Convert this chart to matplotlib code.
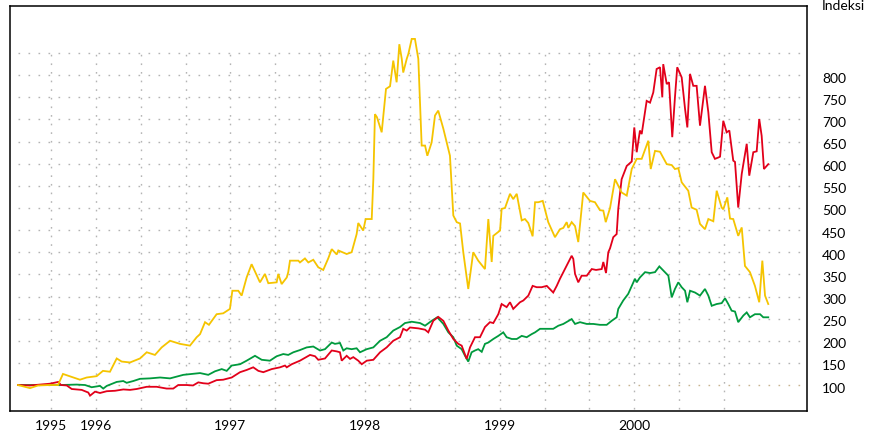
import matplotlib
matplotlib.use("Agg")
import matplotlib.pyplot as plt
import matplotlib.transforms as mtransforms
import numpy as np

# ---- data: (fractional year, index value) ----
yellow = [(1995.423,100),(1995.512,93),(1995.572,99),(1995.661,100),(1995.720,100),(1995.757,125),
(1995.883,112),(1995.933,117),(1996.007,120),(1996.054,132),(1996.106,130),(1996.156,160),(1996.193,153),
(1996.255,151),(1996.329,160),(1996.379,174),(1996.440,168),(1996.490,185),(1996.552,200),(1996.626,193),
(1996.700,189),(1996.750,208),(1996.775,215),(1996.812,242),(1996.841,236),(1996.898,260),(1996.947,262),
(1996.997,272),(1997.015,313),(1997.059,313),(1997.084,302),(1997.121,343),(1997.158,373),(1997.220,332),
(1997.257,351),(1997.282,330),(1997.344,332),(1997.356,351),(1997.381,328),(1997.419,343),(1997.430,355),
(1997.443,381),(1997.505,381),(1997.517,377),(1997.554,386),(1997.579,377),(1997.616,383),(1997.653,366),
(1997.690,360),(1997.727,386),(1997.753,407),(1997.790,395),(1997.802,404),(1997.864,396),(1997.901,400),
(1997.938,441),(1997.950,466),(1997.987,449),(1998.005,475),(1998.050,475),(1998.062,565),(1998.074,712),
(1998.089,705),(1998.124,671),(1998.141,722),(1998.156,769),(1998.186,775),(1998.210,833),(1998.235,784),
(1998.255,870),(1998.273,837),(1998.284,806),(1998.310,837),(1998.322,848),(1998.347,882),(1998.371,882),
(1998.396,837),(1998.421,641),(1998.446,641),(1998.463,618),(1998.495,648),(1998.520,709),(1998.544,720),
(1998.582,679),(1998.631,618),(1998.656,483),(1998.681,468),(1998.706,465),(1998.730,400),(1998.767,317),
(1998.804,400),(1998.841,381),(1998.891,362),(1998.916,475),(1998.941,378),(1998.953,437),(1999.003,449),
(1999.015,498),(1999.040,500),(1999.077,532),(1999.101,520),(1999.127,532),(1999.164,472),(1999.188,475),
(1999.213,466),(1999.245,436),(1999.263,513),(1999.287,513),(1999.320,516),(1999.361,468),(1999.411,434),
(1999.448,452),(1999.473,455),(1999.498,468),(1999.510,455),(1999.535,468),(1999.560,459),(1999.584,423),
(1999.621,535),(1999.671,516),(1999.708,513),(1999.745,495),(1999.770,494),(1999.788,468),(1999.820,500),
(1999.857,565),(1999.906,535),(1999.944,528),(1999.981,588),(2000.018,611),(2000.055,611),(2000.104,652),
(2000.122,588),(2000.154,629),(2000.191,627),(2000.241,599),(2000.278,597),(2000.302,588),(2000.327,590),
(2000.352,558),(2000.401,539),(2000.426,501),(2000.463,496),(2000.488,464),(2000.525,452),(2000.550,475),
(2000.587,470),(2000.612,539),(2000.649,501),(2000.661,497),(2000.691,524),(2000.711,476),(2000.735,475),
(2000.772,437),(2000.798,456),(2000.822,369),(2000.859,355),(2000.896,324),(2000.928,287),(2000.951,381),
(2000.971,302),(2000.995,283)]

red = [(1995.423,100),(1995.512,99),(1995.586,101),(1995.661,103),(1995.722,107),(1995.742,100),
(1995.785,99),(1995.822,91),(1995.896,89),(1995.945,83),(1995.958,76),(1995.995,85),(1996.032,82),
(1996.082,86),(1996.143,87),(1996.205,90),(1996.255,89),(1996.304,91),(1996.379,96),(1996.453,96),
(1996.527,92),(1996.576,92),(1996.613,100),(1996.676,100),(1996.723,99),(1996.762,106),(1996.799,104),
(1996.836,103),(1996.898,111),(1996.947,112),(1997.010,117),(1997.072,129),(1997.121,134),(1997.170,140),
(1997.208,132),(1997.245,129),(1997.307,136),(1997.369,140),(1997.406,144),(1997.419,140),(1997.456,147),
(1997.517,155),(1997.592,168),(1997.629,165),(1997.653,157),(1997.703,160),(1997.753,178),(1997.790,176),
(1997.814,174),(1997.827,155),(1997.864,166),(1997.889,159),(1997.913,163),(1997.950,155),(1997.976,147),
(1998.013,155),(1998.062,157),(1998.112,174),(1998.161,185),(1998.210,200),(1998.260,208),(1998.284,227),
(1998.310,223),(1998.334,230),(1998.396,228),(1998.446,225),(1998.470,219),(1998.507,245),(1998.544,254),
(1998.582,245),(1998.619,223),(1998.656,204),(1998.693,193),(1998.718,189),(1998.755,159),(1998.780,185),
(1998.817,208),(1998.854,208),(1998.891,231),(1998.928,242),(1998.953,240),(1998.990,260),(1999.015,283),
(1999.052,276),(1999.077,287),(1999.101,272),(1999.151,287),(1999.176,291),(1999.213,302),(1999.245,324),
(1999.275,321),(1999.312,321),(1999.350,324),(1999.398,309),(1999.424,324),(1999.448,340),(1999.485,362),
(1999.535,392),(1999.547,385),(1999.560,351),(1999.584,332),(1999.609,347),(1999.647,347),(1999.684,362),
(1999.716,360),(1999.758,362),(1999.770,378),(1999.790,353),(1999.807,400),(1999.820,409),(1999.844,434),
(1999.869,441),(1999.881,498),(1999.906,565),(1999.944,595),(1999.981,605),(2000.000,682),(2000.018,626),
(2000.042,675),(2000.055,667),(2000.092,742),(2000.117,738),(2000.141,761),(2000.166,814),(2000.191,818),
(2000.208,750),(2000.215,825),(2000.241,780),(2000.258,784),(2000.282,660),(2000.302,750),(2000.319,818),
(2000.352,795),(2000.377,724),(2000.394,682),(2000.414,803),(2000.438,776),(2000.463,776),(2000.488,686),
(2000.525,776),(2000.550,716),(2000.575,626),(2000.599,611),(2000.624,614),(2000.637,616),(2000.661,697),
(2000.686,671),(2000.706,675),(2000.735,607),(2000.748,604),(2000.772,501),(2000.798,577),(2000.835,645),
(2000.854,573),(2000.884,626),(2000.909,628),(2000.928,701),(2000.946,663),(2000.963,588),(2000.995,599)]

green = [(1995.423,100),(1995.586,100),(1995.735,100),(1995.859,101),(1995.921,100),(1995.970,95),
(1996.032,98),(1996.056,92),(1996.082,98),(1996.156,107),(1996.205,109),(1996.230,105),(1996.279,109),
(1996.329,114),(1996.403,115),(1996.478,117),(1996.552,115),(1996.601,119),(1996.651,123),(1996.713,125),
(1996.775,127),(1996.836,123),(1996.886,131),(1996.936,136),(1996.973,132),(1997.010,144),(1997.072,147),
(1997.121,155),(1997.183,166),(1997.233,157),(1997.294,155),(1997.344,165),(1997.393,170),(1997.430,168),
(1997.468,174),(1997.517,179),(1997.567,185),(1997.616,187),(1997.666,178),(1997.703,181),(1997.753,196),
(1997.777,193),(1997.814,195),(1997.839,178),(1997.864,183),(1997.901,181),(1997.938,183),(1997.963,174),
(1998.013,181),(1998.062,185),(1998.112,200),(1998.161,208),(1998.210,223),(1998.260,231),(1998.297,240),
(1998.347,243),(1998.409,240),(1998.446,234),(1998.495,245),(1998.537,253),(1998.582,238),(1998.619,219),
(1998.656,208),(1998.681,189),(1998.718,181),(1998.743,166),(1998.767,153),(1998.792,174),(1998.817,178),
(1998.841,181),(1998.867,175),(1998.891,193),(1998.916,196),(1998.953,204),(1998.990,211),(1999.027,219),
(1999.052,208),(1999.090,204),(1999.127,204),(1999.164,211),(1999.201,208),(1999.238,215),(1999.263,219),
(1999.300,227),(1999.350,227),(1999.398,227),(1999.436,234),(1999.473,238),(1999.535,249),(1999.560,238),
(1999.597,242),(1999.647,238),(1999.696,238),(1999.745,236),(1999.795,236),(1999.832,245),(1999.869,253),
(1999.881,272),(1999.918,291),(1999.955,306),(1999.993,332),(2000.005,340),(2000.018,332),(2000.042,343),
(2000.080,355),(2000.117,353),(2000.154,355),(2000.186,368),(2000.215,359),(2000.253,347),(2000.278,298),
(2000.302,317),(2000.327,332),(2000.352,321),(2000.377,313),(2000.394,287),(2000.414,313),(2000.451,309),
(2000.488,302),(2000.525,317),(2000.550,302),(2000.575,279),(2000.612,283),(2000.649,285),(2000.674,296),
(2000.698,283),(2000.723,268),(2000.748,266),(2000.772,242),(2000.810,257),(2000.835,264),(2000.859,253),
(2000.896,260),(2000.934,260),(2000.958,253),(2000.995,253)]

y_ticks = [100, 150, 200, 250, 300, 350, 400, 450, 500, 550, 600, 650, 700, 750, 800]
grid_levels = y_ticks + [850]
x_tick_pos = [1995.667, 1996.0, 1997.0, 1998.0, 1999.0, 2000.0]
x_tick_labels = ["1995", "1996", "1997", "1998", "1999", "2000"]
vgrid = [1995.667 + k / 3 for k in range(16)]

C_YEL = "#f5c400"
C_RED = "#e2001a"
C_GRN = "#009a3d"

plt.rcParams['font.family'] = ['Lato', 'DejaVu Sans']

fig = plt.figure(figsize=(8.72, 4.39), dpi=100)
ax = fig.add_axes([0.012, 0.0615, 0.9135, 0.9225])
ax.set_xlim(1995.367, 2001.283)
ax.set_ylim(41.3, 956.3)

# grid
for g in grid_levels:
    col = "#c8b592" if g == 100 else "#b4b4b4"
    ax.hlines(g, 1995.42, 2001.27, colors=col, linestyles=(0, (1.2, 6)), linewidth=1.0, zorder=1)
for v in vgrid:
    ax.vlines(v, 45, 860, colors="#b4b4b4", linestyles=(0, (1.2, 5)), linewidth=1.0, zorder=1)

for data, col in [(green, C_GRN), (red, C_RED), (yellow, C_YEL)]:
    t = [p[0] for p in data]
    v = [p[1] for p in data]
    ax.plot(t, v, color=col, linewidth=1.3, solid_joinstyle='miter', zorder=3)

for s in ax.spines.values():
    s.set_linewidth(1.1)
    s.set_color("black")

ax.set_xticks(x_tick_pos)
ax.set_xticklabels(x_tick_labels, fontsize=10)
ax.tick_params(axis='x', length=0, pad=6)
ax.set_yticks([])

# right-hand value labels, slightly below their grid lines as in the original
ytrans = mtransforms.blended_transform_factory(ax.transAxes, ax.transData) + \
    mtransforms.ScaledTranslation(15 / 100, -2.5 / 100, fig.dpi_scale_trans)
for t in y_ticks:
    ax.text(1.0, t, str(t), transform=ytrans, fontsize=10, ha='left', va='center')

fig.text(821.7 / 872, 1 - 6 / 439, "Indeksi", fontsize=10, ha='left', va='center')

fig.savefig("out.png", dpi=100)
